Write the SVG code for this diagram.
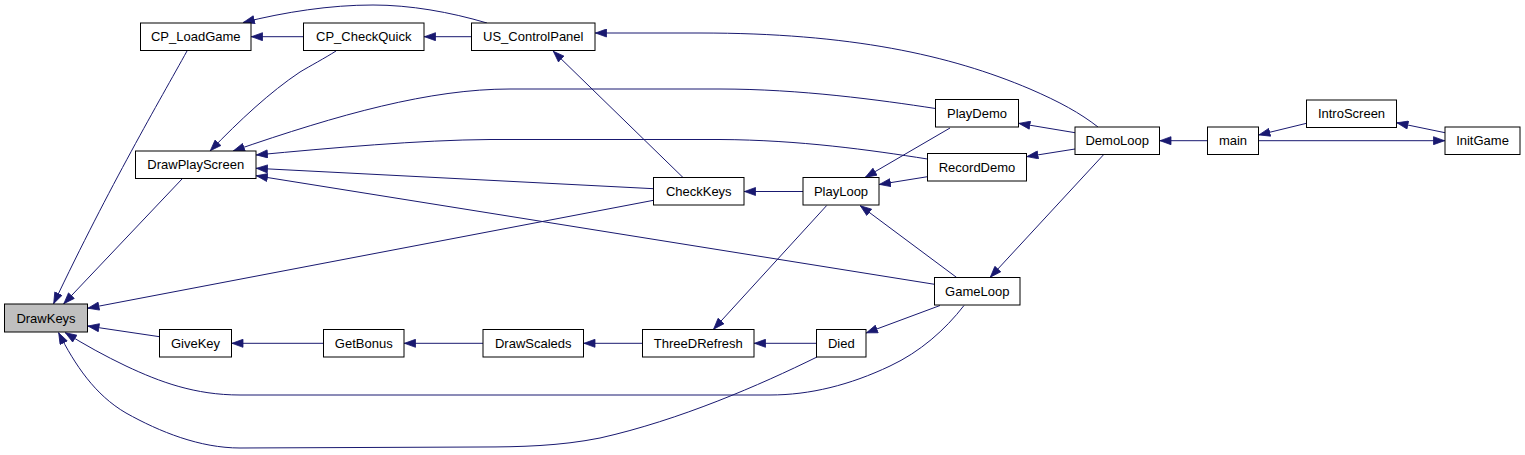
<svg xmlns="http://www.w3.org/2000/svg" width="1525" height="455" viewBox="0 0 1525 455">
<style>
.n rect{fill:#fff;stroke:#000;stroke-width:1}
.n text{font-family:"Liberation Sans",Arial,sans-serif;font-size:13px;fill:#000;text-anchor:middle}
#DrawKeys rect{fill:#bfbfbf}
.e path{fill:none;stroke:#191970;stroke-width:1;marker-end:url(#ah)}
</style>
<defs>
<marker id="ah" viewBox="0 0 12 9" refX="12" refY="4.5" markerWidth="12" markerHeight="9" markerUnits="userSpaceOnUse" orient="auto">
<path d="M0.5,0.5 L11.5,4.5 L0.5,8.5 z" fill="#191970" stroke="#191970" stroke-width="0.8"/>
</marker>
</defs>
<rect width="1525" height="455" fill="#fff"/>
<g id="edges" class="e">
<path d="M303.5,36.7 L251,36.7"/>
<path d="M471.5,36.7 L424,36.7"/>
<path d="M487,23 C450,12 410,5 373,5 C330,5 285,12 243,22.5"/>
<path d="M1098,127 C1080,113 1060,102 1030,89 C950,55 850,33 700,33 L595,33"/>
<path d="M683,177.5 L553,51"/>
<path d="M336,51 C325,58 310,66 300,72 C270,92 240,120 210,151"/>
<path d="M935.5,108.5 C880,100 800,89 720,89 L510,89 C430,89 340,114 233,151"/>
<path d="M927.5,159 C870,150 800,140 720,139.5 L490,139.5 C420,140 330,148 256,155"/>
<path d="M653.5,188.7 L256,168.3"/>
<path d="M934.5,284.3 L256,175.7"/>
<path d="M950,128 L865,177.5"/>
<path d="M927.5,176.7 L879,184.5"/>
<path d="M803,191.5 L744,191.5"/>
<path d="M1075,132.7 L1018.5,123.3"/>
<path d="M1075,149 L1026.5,156.7"/>
<path d="M1207.5,140.7 L1159.5,140.7"/>
<path d="M1306.5,123.3 L1258.5,135"/>
<path d="M1445,132.7 L1396.5,122.7"/>
<path d="M1258.5,140.7 L1445,140.7"/>
<path d="M1103.3,155 L990,277.5"/>
<path d="M956.7,277.5 L860,205.5"/>
<path d="M826.7,205.5 L713.3,329.5"/>
<path d="M816.5,343.3 L754,343.3"/>
<path d="M940,305.5 L866,333"/>
<path d="M642.5,343.3 L583.5,343.3"/>
<path d="M483,343.3 L404,343.3"/>
<path d="M323.5,343.3 L231.5,343.3"/>
<path d="M159.5,336.7 L87.5,326"/>
<path d="M653.5,200.3 L87.5,308.3"/>
<path d="M964,305.5 C945,330 920,352 890,366 C850,385 810,395 770,395 L240,395 C195,395 160,382 126,366 C105,356 85,345 65,332.5"/>
<path d="M817,357 C760,385 680,420 600,438 C560,446 520,447 480,447 L240,448 C200,448 160,432 126,413 C95,395 75,365 58.5,332.5"/>
<path d="M187,51 C160,100 110,185 53.5,304"/>
<path d="M182,179 L63.5,304"/>
</g>
<g id="DrawKeys" class="n"><rect x="4.5" y="304" width="83" height="28"/><text x="46" y="322.5">DrawKeys</text></g>
<g id="CP_LoadGame" class="n"><rect x="140.5" y="23" width="110.5" height="27.5"/><text x="195.75" y="41.3">CP_LoadGame</text></g>
<g id="CP_CheckQuick" class="n"><rect x="303.5" y="23" width="120.5" height="27.5"/><text x="363.75" y="41.3">CP_CheckQuick</text></g>
<g id="US_ControlPanel" class="n"><rect x="471.5" y="23" width="123.5" height="27.5"/><text x="533.25" y="41.3">US_ControlPanel</text></g>
<g id="DrawPlayScreen" class="n"><rect x="135.5" y="151" width="120.5" height="27.5"/><text x="195.75" y="169.3">DrawPlayScreen</text></g>
<g id="CheckKeys" class="n"><rect x="653.5" y="177.5" width="90.5" height="27.5"/><text x="698.75" y="195.8">CheckKeys</text></g>
<g id="PlayLoop" class="n"><rect x="803" y="177.5" width="76" height="27.5"/><text x="841" y="195.8">PlayLoop</text></g>
<g id="PlayDemo" class="n"><rect x="935.5" y="99.5" width="83" height="27.5"/><text x="977" y="117.8">PlayDemo</text></g>
<g id="RecordDemo" class="n"><rect x="927.5" y="153.5" width="99" height="27.5"/><text x="977" y="171.8">RecordDemo</text></g>
<g id="DemoLoop" class="n"><rect x="1075" y="127" width="84.5" height="27.5"/><text x="1117.25" y="145.3">DemoLoop</text></g>
<g id="main" class="n"><rect x="1207.5" y="127" width="51" height="27.5"/><text x="1233" y="145.3">main</text></g>
<g id="IntroScreen" class="n"><rect x="1306.5" y="100" width="90" height="27.5"/><text x="1351.5" y="118.3">IntroScreen</text></g>
<g id="InitGame" class="n"><rect x="1445" y="127" width="75" height="27.5"/><text x="1482.5" y="145.3">InitGame</text></g>
<g id="GameLoop" class="n"><rect x="934.5" y="277.5" width="85.5" height="27.5"/><text x="977.25" y="295.8">GameLoop</text></g>
<g id="GiveKey" class="n"><rect x="159.5" y="329.5" width="72" height="27.5"/><text x="195.5" y="347.8">GiveKey</text></g>
<g id="GetBonus" class="n"><rect x="323.5" y="329.5" width="80.5" height="27.5"/><text x="363.75" y="347.8">GetBonus</text></g>
<g id="DrawScaleds" class="n"><rect x="483" y="329.5" width="100.5" height="27.5"/><text x="533.25" y="347.8">DrawScaleds</text></g>
<g id="ThreeDRefresh" class="n"><rect x="642.5" y="329.5" width="111.5" height="27.5"/><text x="698.25" y="347.8">ThreeDRefresh</text></g>
<g id="Died" class="n"><rect x="816.5" y="329.5" width="49.5" height="27.5"/><text x="841.25" y="347.8">Died</text></g>
</svg>
